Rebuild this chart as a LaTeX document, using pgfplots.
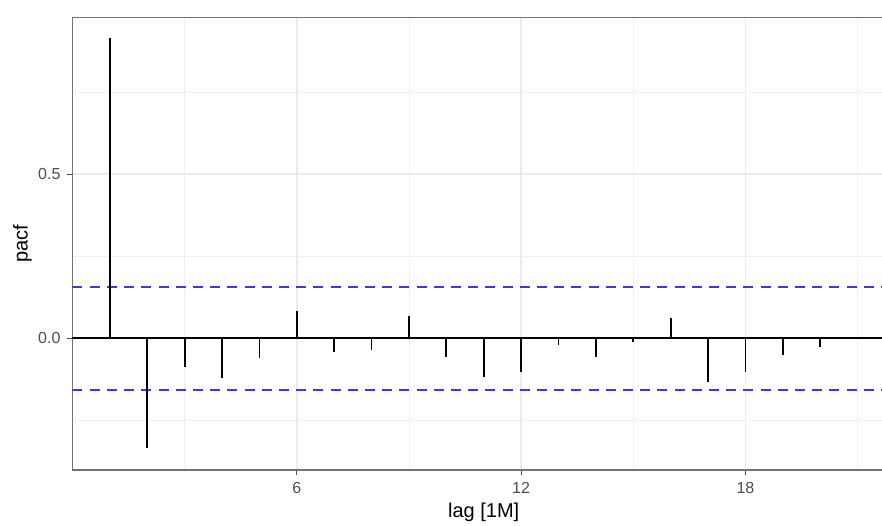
\documentclass[border=0pt]{standalone}
\usepackage{fontspec}
\setmainfont{Liberation Sans}
\usepackage{pgfplots}
\pgfplotsset{compat=1.18}
\definecolor{tickgray}{HTML}{4D4D4D}
\definecolor{ciblue}{HTML}{3A3AE0}

\begin{document}
\begin{tikzpicture}
  \useasboundingbox (0,0) rectangle (441pt,262.5pt);
  \clip (0,0) rectangle (441pt,262.5pt);
  \begin{axis}[
      at={(36.25pt,27.5pt)}, anchor=south west,
      width=411.25pt, height=226.35pt, scale only axis,
      xmin=0, xmax=22, ymin=-0.402, ymax=0.978,
      xtick={6,12,18}, ytick={0,0.5},
      minor xtick={3,9,15,21}, minor ytick={-0.25,0.25,0.75},
      grid=both,
      major grid style={line width=0.7pt, color=black!8},
      minor grid style={line width=0.4pt, color=black!6},
      axis line style={line width=0.6pt, color=black!55},
      tick align=outside, major tick length=2.5pt, minor tick length=0pt,
      xtick pos=bottom, ytick pos=left,
      tick style={line width=0.6pt, color=black!70},
      yticklabel style={/pgf/number format/fixed, /pgf/number format/fixed zerofill,
        /pgf/number format/precision=1, font=\fontsize{8}{9}\selectfont, text=tickgray},
      xticklabel style={font=\fontsize{8}{9}\selectfont, text=tickgray},
      /pgf/number format/assume math mode=true,
      xlabel={lag [1M]}, ylabel={pacf},
      label style={font=\fontsize{10}{12}\selectfont},
      every axis x label/.style={at={([yshift=-21pt]axis description cs:0.5,0)}, anchor=center},
      every axis y label/.style={at={([xshift=-25pt]axis description cs:0,0.5)}, anchor=center, rotate=90},
    ]
    \addplot[ciblue, line width=0.9pt, dash pattern=on 5pt off 3.6pt] coordinates {(0,0.157) (22,0.157)};
    \addplot[ciblue, line width=0.9pt, dash pattern=on 5pt off 3.6pt] coordinates {(0,-0.157) (22,-0.157)};
    \addplot[black, line width=0.9pt] coordinates {(0,0) (22,0)};
    \addplot[ycomb, black, line width=0.9pt] coordinates {
      (1,0.916) (2,-0.335) (3,-0.089) (4,-0.122) (5,-0.062) (6,0.083) (7,-0.043)
      (8,-0.035) (9,0.068) (10,-0.059) (11,-0.120) (12,-0.103) (13,-0.021)
      (14,-0.056) (15,-0.013) (16,0.060) (17,-0.135) (18,-0.103) (19,-0.052)
      (20,-0.028) (21,0.0)
    };
  \end{axis}
\end{tikzpicture}
\end{document}
